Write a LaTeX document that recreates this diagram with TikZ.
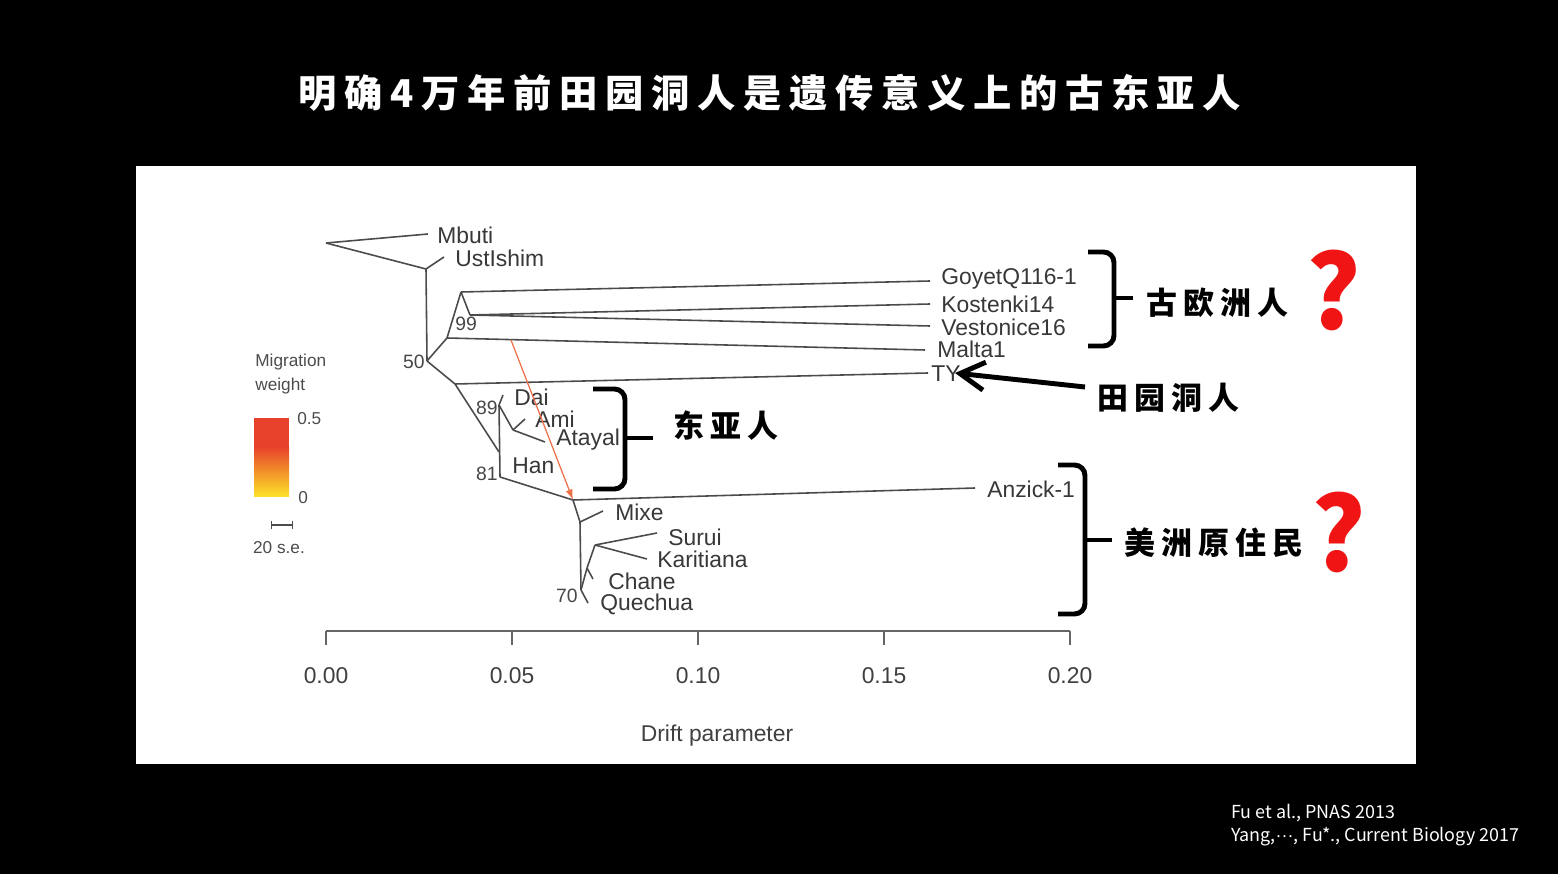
\documentclass[tikz,border=0pt]{standalone}
\usepackage{fontspec}
\setmainfont{Liberation Sans}
\newfontfamily\cjk{Noto Sans CJK SC}
\newfontfamily\latin{Liberation Sans}
\newfontfamily\titlefont{Noto Sans CJK SC}[LetterSpace=20]
\newfontfamily\groupfont{Noto Sans CJK SC}[LetterSpace=20]
\usepackage{tikz}
\usetikzlibrary{arrows.meta,positioning}
\definecolor{treegray}{RGB}{75,75,75}
\definecolor{migorange}{RGB}{238,112,70}
\definecolor{migred}{RGB}{232,66,44}
\definecolor{migyellow}{RGB}{252,228,40}
\definecolor{qred}{RGB}{240,20,20}

\begin{document}
\begin{tikzpicture}[x=0.02cm,y=-0.02cm,>=Latex,
  edge/.style={draw=treegray,line width=0.9pt},
  taxon/.style={anchor=west,inner sep=0pt,text=black!78,font=\fontsize{13}{13}\selectfont},
  support/.style={inner sep=0pt,text=black!72,font=\fontsize{11}{11}\selectfont},
  legend/.style={inner sep=0pt,text=black!70,font=\fontsize{9.8}{9.8}\selectfont},
  ticklabel/.style={inner sep=0pt,text=black!75,font=\fontsize{13}{13}\selectfont},
  brace/.style={line width=2.8pt,rounded corners=6pt},
  group/.style={anchor=west,inner sep=0pt,font=\groupfont\bfseries\fontsize{17.6}{17.6}\selectfont},
  qmark/.style={inner sep=0pt,text=qred,font=\cjk\bfseries\fontsize{58}{58}\selectfont},
  cite/.style={anchor=west,inner sep=0pt,text=white,font=\cjk\fontsize{10.2}{10.2}\selectfont}]
% frame
\fill[black] (0,0) rectangle (1558,874);
\fill[white] (136,166) rectangle (1416,764);
\node[text=white,inner sep=0pt,font=\titlefont\bfseries\fontsize{21.8}{21.8}\selectfont] (title) at (770,93) {明确4万年前田园洞人是遗传意义上的古东亚人};

% tree
\coordinate (root) at (326,243);
\coordinate (mbuti) at (428,234);
\coordinate (n1) at (426,269);
\coordinate (ust) at (444,257);
\coordinate (n50) at (427,361);
\coordinate (n99b) at (447,338);
\coordinate (n99) at (461,292);
\coordinate (n99c) at (470,315);
\coordinate (goyet) at (930,281);
\coordinate (kost) at (930,304);
\coordinate (vest) at (930,326);
\coordinate (malta) at (925,350);
\coordinate (n2) at (455,384);
\coordinate (ty) at (928,373);
\coordinate (n3) at (499,452);
\coordinate (n89) at (499,405);
\coordinate (dai) at (503,395);
\coordinate (n4) at (513,430);
\coordinate (ami) at (525,419);
\coordinate (atayal) at (545,442);
\coordinate (n81) at (500,477);
\coordinate (n5) at (573,500);
\coordinate (anzick) at (975,488);
\coordinate (n6) at (580,522);
\coordinate (mixe) at (603,511);
\coordinate (n70) at (581,590);
\coordinate (quechua) at (588,603);
\coordinate (n7) at (587,568);
\coordinate (chane) at (593,579);
\coordinate (n8) at (595,545);
\coordinate (surui) at (657,533);
\coordinate (kari) at (647,559);
\foreach \a/\b in {root/mbuti,root/n1,n1/ust,n1/n50,n50/n99b,n99b/n99,n99b/malta,n99/goyet,n99/n99c,n99c/kost,n99c/vest,n50/n2,n2/ty,n2/n3,n89/dai,n89/n4,n4/ami,n4/atayal,n89/n81,n81/n5,n5/anzick,n5/n6,n6/mixe,n6/n70,n70/quechua,n70/n7,n7/chane,n7/n8,n8/surui,n8/kari}{\draw[edge] (\a)--(\b);}

\node[taxon] (lmbuti) at (437,235) {Mbuti};
\node[taxon] (lust) at (455,258) {UstIshim};
\node[taxon] (lgoyet) at (941,279) {GoyetQ116-1};
\node[taxon] (lkost) at (941,304) {Kostenki14};
\node[taxon] (lvest) at (941,327) {Vestonice16};
\node[taxon] (lmalta) at (937,349) {Malta1};
\node[taxon] (lty) at (931,374) {TY};
\node[taxon] (lanzick) at (987,489) {Anzick-1};
\node[taxon] (ldai) at (514,397) {Dai};
\node[taxon] (lami) at (535,419) {Ami};
\node[taxon] (latayal) at (556,440) {Atayal};
\node[taxon] (lhan) at (512,466) {Han};
\node[taxon] (lmixe) at (615,512) {Mixe};
\node[taxon] (lsurui) at (668,537) {Surui};
\node[taxon] (lkari) at (657,559) {Karitiana};
\node[taxon] (lchane) at (608,581) {Chane};
\node[taxon] (lquechua) at (600,604) {Quechua};

\node[support,anchor=east] (s50) at (425,362) {50};
\node[support,anchor=west] (s99) at (455,324) {99};
\node[support,anchor=east] (s89) at (498,408) {89};
\node[support,anchor=east] (s81) at (498,474) {81};
\node[support,anchor=east] (s70) at (578,596) {70};

% migration edge
\coordinate (mig) at (511,340);
\draw[migorange,line width=0.7pt,-{Latex[length=6pt,width=4pt]}] (mig)--(n5);

% legend
\node[legend,anchor=west] (legtop) at (255,362) {Migration};
\node[legend,anchor=west] (legbot) at (255,386) {weight};
\fill[migred] (254,418) rectangle (289,448);
\shade[top color=migred,bottom color=migyellow] (254,447) rectangle (289,497);
\node[legend,anchor=west] (lhigh) at (297,419) {0.5};
\node[legend,anchor=west] (llow) at (298,498) {0};
\coordinate (sea) at (271,525);
\coordinate (seb) at (293,525);
\draw[black!70,line width=0.6pt,{Bar[width=5pt]}-{Bar[width=5pt]}] (sea)--(seb);
\node[legend] (lse) at (279,548) {20 s.e.};

% axis
\draw[black!60,line width=1.1pt] (326,631)--(1070,631);
\foreach \v [count=\i from 0] in {0.00,0.05,0.10,0.15,0.20}{
  \draw[black!60,line width=1.1pt] ({326+186*\i},631)--++(0,14);
  \node[ticklabel] at ({326+186*\i},676) {\v};
}
\node[ticklabel] (xlabel) at (717,736) {Drift parameter};

% groups
\draw[brace] (1088,252)--(1114,252)--(1114,346)--(1088,346);
\draw[line width=2.8pt] (1114,298)--(1133,298);
\node[group] (geuro) at (1146,303) {古欧洲人};
\node[qmark] (q1) at (1334,290) {?};

\draw[brace] (593,389)--(625,389)--(625,489)--(593,489);
\draw[line width=2.8pt] (625,438)--(653,438);
\node[group] (geast) at (673,426) {东亚人};

\draw[brace] (1058,465)--(1085,465)--(1085,614)--(1058,614);
\draw[line width=2.8pt] (1085,540)--(1112,540);
\node[group] (gamer) at (1124,543) {美洲原住民};
\node[qmark] (q2) at (1339,532) {?};

\node[group] (gty) at (1097,398) {田园洞人};
\coordinate (tyfrom) at (1085,387);
\coordinate (tyhead) at (955,373);
\draw[line width=2.8pt,-{Straight Barb[length=14pt,width=16pt,line width=2.8pt]}] (tyfrom)--(tyhead);

% references
\node[cite] (c1) at (1231,813) {Fu et al., PNAS 2013};
\node[cite] (c2) at (1231,837) {Yang,{\latin ···}, Fu*., Current Biology 2017};
\end{tikzpicture}
\end{document}
